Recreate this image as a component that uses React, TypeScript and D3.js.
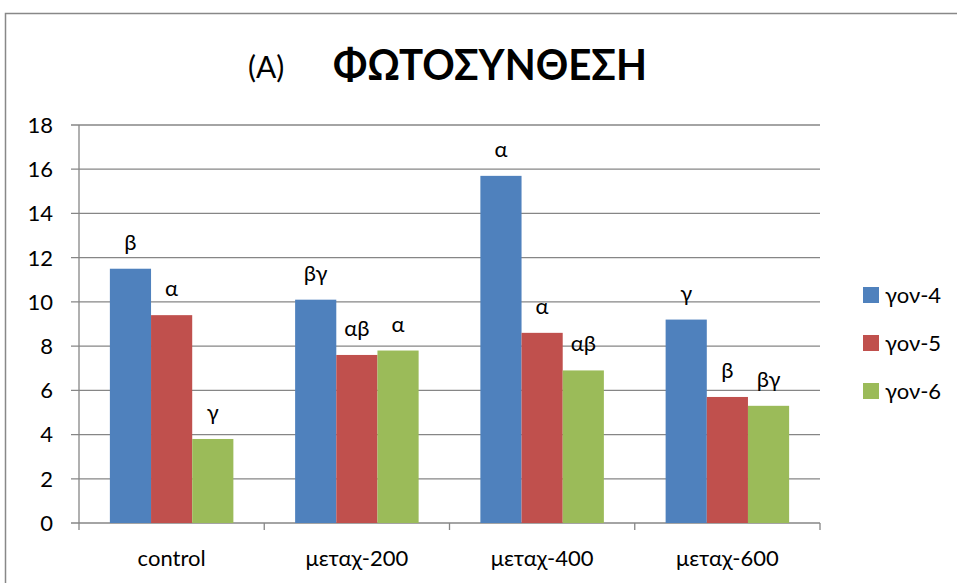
import React from "react";
import * as d3 from "d3";

const categories = ["control", "μεταχ-200", "μεταχ-400", "μεταχ-600"];
const seriesNames = ["γον-4", "γον-5", "γον-6"];
const gon4 = [11.5, 10.1, 15.7, 9.2];
const gon5 = [9.4, 7.6, 8.6, 5.7];
const gon6 = [3.8, 7.8, 6.9, 5.3];
const labels4 = ["β", "βγ", "α", "γ"];
const labels5 = ["α", "αβ", "α", "β"];
const labels6 = ["γ", "α", "αβ", "βγ"];
const yTicks = [0, 2, 4, 6, 8, 10, 12, 14, 16, 18];

const colors = ["#4F81BD", "#C0504D", "#9BBB59"];
const FONT = "Lato, 'Open Sans', sans-serif";

export default function App() {
  const W = 957, H = 583;
  const left = 79, right = 820, top = 125, bottom = 523;
  const series = [gon4, gon5, gon6];
  const seriesLabels = [labels4, labels5, labels6];

  const y = d3.scaleLinear().domain([0, 18]).range([bottom, top]);
  const x0 = d3.scaleBand().domain(categories).range([left, right]).paddingInner(0).paddingOuter(0);
  const cw = x0.bandwidth();
  const barW = cw / 4.5;
  const x1 = d3.scaleBand().domain(seriesNames).range([0, barW * 3]);

  return (
    <svg width={W} height={H} style={{ position: "absolute", left: 0, top: 0, background: "#fff" }} fontFamily={FONT}>
      <rect x={5.5} y={13.5} width={W + 20} height={H + 20} fill="#fff" stroke="#888" strokeWidth={1.5} />
      <text x={248} y={78} fontSize={30} fill="#000">(A)</text>
      <text x={333} y={80} fontSize={42} fontWeight="bold" fill="#000" textLength={314} lengthAdjust="spacingAndGlyphs">ΦΩΤΟΣΥΝΘΕΣΗ</text>

      {yTicks.map((t) => (
        <g key={t}>
          <line x1={left - 8} x2={right} y1={y(t)} y2={y(t)} stroke="#868686" strokeWidth={1.3} />
          <text x={53} y={y(t)} dy="0.36em" textAnchor="end" fontSize={22} fill="#000">{t}</text>
        </g>
      ))}
      <line x1={left} x2={left} y1={top} y2={bottom} stroke="#868686" strokeWidth={1.3} />
      {d3.range(categories.length + 1).map((i) => (
        <line key={i} x1={left + i * cw} x2={left + i * cw} y1={bottom} y2={bottom + 7} stroke="#868686" strokeWidth={1.3} />
      ))}

      {categories.map((c, ci) => (
        <g key={c}>
          {series.map((s, si) => {
            const bx = (x0(c) as number) + barW * 0.75 + (x1(seriesNames[si]) as number);
            return (
              <g key={si}>
                <rect x={bx} y={y(s[ci])} width={barW} height={bottom - y(s[ci])} fill={colors[si]} />
                <text x={bx + barW / 2} y={y(s[ci]) - 19} textAnchor="middle" fontSize={22} fill="#000">{seriesLabels[si][ci]}</text>
              </g>
            );
          })}
          <text x={(x0(c) as number) + cw / 2} y={566} textAnchor="middle" fontSize={22} fill="#000">{c}</text>
        </g>
      ))}

      {seriesNames.map((n, i) => (
        <g key={n}>
          <rect x={863} y={287 + i * 48} width={16} height={16} fill={colors[i]} />
          <text x={885} y={295 + i * 48} dy="0.36em" fontSize={22} fill="#000">{n}</text>
        </g>
      ))}
    </svg>
  );
}
